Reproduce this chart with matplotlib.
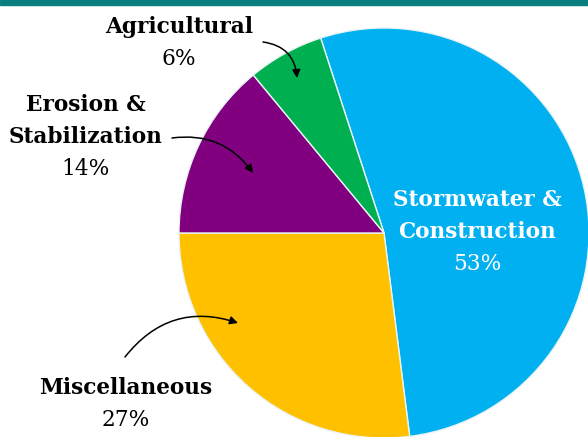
import matplotlib.pyplot as plt
from matplotlib.patches import Rectangle

labels = ['Stormwater &\nConstruction', 'Miscellaneous', 'Erosion &\nStabilization', 'Agricultural']
shares = [53, 27, 14, 6]
colors = ['#00B0F0', '#FFC000', '#800080', '#00B050']

W, H = 588, 437
cx, cy, r = 384, 233, 205  # pie centre / radius in image pixels

fig = plt.figure(figsize=(W / 100, H / 100), dpi=100)
ax = fig.add_axes([0, 0, 1, 1])
ax.pie(shares, colors=colors, startangle=108, counterclock=False,
       wedgeprops=dict(edgecolor='#e8f4f4', linewidth=1.0))
ax.set_xlim(-cx / r, (W - cx) / r)
ax.set_ylim(-(H - cy) / r, cy / r)
ax.set_aspect('auto')
ax.axis('off')

# teal strip at the top
fig.patches.append(Rectangle((0, 1 - 5 / H), 1, 5 / H, transform=fig.transFigure,
                             color='#0A7F80', zorder=5))

font = 'DejaVu Serif'
fs = 15.6


def label(x, y, name, pct, color='black'):
    lines = name.split('\n')
    yy = H - y
    for ln in lines:
        fig.text(x / W, yy / H, ln, ha='center', va='center', fontsize=fs,
                 fontweight='bold', family=font, color=color)
        yy -= 32
    fig.text(x / W, yy / H, f'{pct}%', ha='center', va='center', fontsize=fs,
             family=font, color=color)


label(179, 27, labels[3], shares[3])
label(86, 105, labels[2], shares[2])
label(126, 388, labels[1], shares[1])
label(477, 200, labels[0], shares[0], color='white')


def arrow(start, end, rad):
    ax.annotate('', xy=(end[0], H - end[1]), xytext=(start[0], H - start[1]),
                xycoords='figure pixels', textcoords='figure pixels',
                arrowprops=dict(arrowstyle='-|>', color='black', lw=1.1,
                                mutation_scale=12, shrinkA=0, shrinkB=0,
                                connectionstyle=f'arc3,rad={rad}'))


arrow((263, 42), (297, 78), -0.4)
arrow((172, 138), (253, 173), -0.3)
arrow((125, 357), (238, 323), -0.35)

fig.savefig('out.png', dpi=100)
